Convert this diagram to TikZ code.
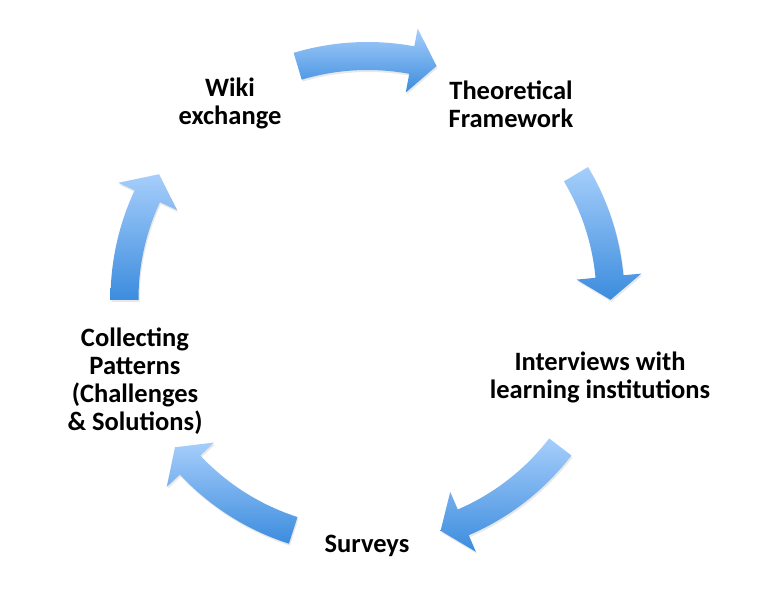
\documentclass[tikz,border=0pt]{standalone}
\usepackage{fontspec}
\setmainfont{Carlito}
\usetikzlibrary{calc,shadows}
\definecolor{arrowtop}{RGB}{166,206,251}
\definecolor{arrowbot}{RGB}{60,140,222}
\tikzset{
  cycarrow/.style={top color=arrowtop,bottom color=arrowbot,draw=none,
    drop shadow={shadow xshift=1pt,shadow yshift=-2pt,opacity=.18}},
  label/.style={font=\bfseries\fontsize{26.5}{28}\selectfont,align=center,inner sep=0pt}
}
% curved block arrow on the ring: tail angle, head base angle, tip angle
\newcommand{\cycarrow}[3]{%
  \path[cycarrow] ($(C)+(#1:229)$) arc[start angle=#1,end angle=#2,radius=229]
    -- ($(C)+(#2:210)$) -- ($(C)+(#3:243)$) -- ($(C)+(#2:275)$)
    -- ($(C)+(#2:257)$) arc[start angle=#2,end angle=#1,radius=257] -- cycle;}

\begin{document}
\begin{tikzpicture}[x=1pt,y=1pt]
\useasboundingbox (0,0) rectangle (757,608);
\coordinate (C) at (367.5,309);
\cycarrow{106.7}{79.5}{73.5}
\cycarrow{30.9}{5.3}{-0.2}
\cycarrow{-37.5}{-66.8}{-72.5}
\cycarrow{-107.8}{-136.9}{-142.4}
\cycarrow{180.2}{155}{149.1}
\node[label] (wiki) at (230,505) {Wiki\\exchange};
\node[label] (theory) at (511,504) {Theoretical\\Framework};
\node[label] (interviews) at (600,231) {Interviews with\\learning institutions};
\node[label] (surveys) at (367,62) {Surveys};
\node[label] (patterns) at (135,227) {Collecting\\Patterns\\(Challenges\\\& Solutions)};
\end{tikzpicture}
\end{document}
